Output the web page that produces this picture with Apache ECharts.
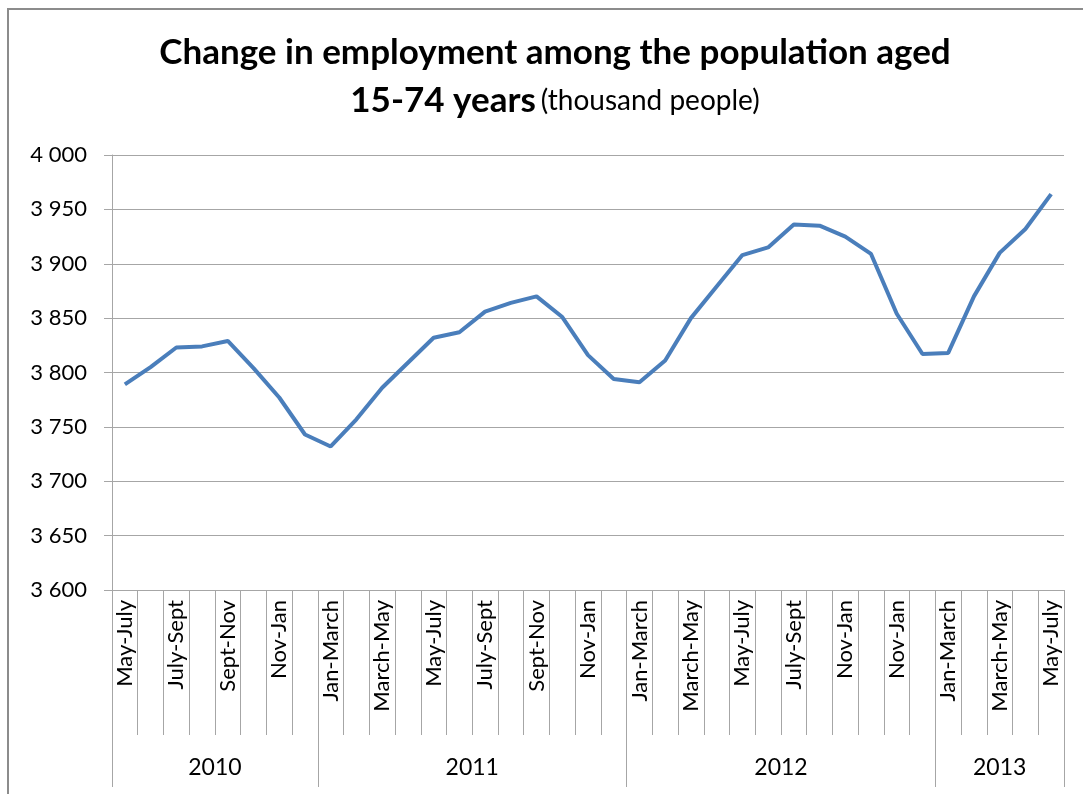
<!DOCTYPE html>
<html>
<head>
<meta charset="utf-8">
<script src="https://cdn.jsdelivr.net/npm/echarts@6/dist/echarts.min.js"></script>
<style>
html,body{margin:0;padding:0;background:#fff;}
#chart{width:1083px;height:794px;}
</style>
</head>
<body>
<div id="chart"></div>
<script>
// ---- data ----
const categories = [
  'May-July','June-Aug','July-Sept','Aug-Oct','Sept-Nov','Oct-Dec','Nov-Jan','Dec-Feb',
  'Jan-March','Feb-April','March-May','April-June','May-July','June-Aug','July-Sept','Aug-Oct','Sept-Nov','Oct-Dec','Nov-Jan','Dec-Feb',
  'Jan-March','Feb-April','March-May','April-June','May-July','June-Aug','July-Sept','Aug-Oct','Nov-Jan','Oct-Dec','Nov-Jan','Dec-Feb',
  'Jan-March','Feb-April','March-May','April-June','May-July'
];
const employment = [
  3789, 3805, 3823, 3824, 3829, 3804, 3777, 3743,
  3732, 3757, 3786, 3809, 3832, 3837, 3856, 3864, 3870, 3851, 3816, 3794,
  3791, 3811, 3850, 3879, 3908, 3915, 3936, 3935, 3925, 3909, 3854, 3817,
  3818, 3870, 3910, 3932, 3964
];
const years = ['2010', '2011', '2012', '2013'];
const yearCounts = [8, 12, 12, 5];
const yTicks = { min: 3600, max: 4000, step: 50 };

// ---- derived ----
const yearBounds = [0];
yearCounts.forEach(c => yearBounds.push(yearBounds[yearBounds.length - 1] + c));
const yearCenters = years.map((y, i) => (yearBounds[i] + yearBounds[i + 1]) / 2);

const FONT = 'Lato, "DejaVu Sans", sans-serif';
const GRAY = '#a6a6a6';

const chart = echarts.init(document.getElementById('chart'), null, { renderer: 'canvas' });
chart.setOption({
  animation: false,
  backgroundColor: '#fff',
  graphic: [{
    type: 'rect',
    shape: { x: 8, y: 9, width: 1200, height: 900 },
    style: { fill: 'none', stroke: '#8c8c8c', lineWidth: 2 },
    silent: true
  }],
  title: {
    left: 550,
    top: 24,
    textAlign: 'center',
    text: '{b|Change in employment among the population aged}\n{b|15-74 years} {n|(thousand people)}',
    textStyle: {
      rich: {
        b: { fontFamily: FONT, fontWeight: 'bold', fontSize: 35, color: '#000', lineHeight: 48 },
        n: { fontFamily: FONT, fontWeight: 'normal', fontSize: 28, color: '#000', lineHeight: 48 }
      }
    }
  },
  grid: { left: 112, right: 19, top: 155, bottom: 204, containLabel: false },
  xAxis: [{
    type: 'category',
    data: categories,
    boundaryGap: true,
    axisLine: { show: true, lineStyle: { color: GRAY, width: 1 } },
    axisTick: { show: true, interval: 0, length: 145, lineStyle: { color: GRAY, width: 1 } },
    axisLabel: {
      interval: 1, rotate: 90, margin: 10,
      fontFamily: FONT, fontSize: 22, color: '#000'
    },
    splitLine: { show: false }
  }, {
    type: 'value',
    position: 'bottom',
    min: 0,
    max: yearBounds[yearBounds.length - 1],
    axisLine: { show: false },
    splitLine: { show: false },
    axisTick: { show: true, customValues: yearBounds, length: 197, lineStyle: { color: GRAY, width: 1 } },
    axisLabel: {
      show: true,
      customValues: yearCenters,
      margin: 166,
      fontFamily: FONT, fontSize: 23, color: '#000',
      formatter: v => {
        const i = yearCenters.findIndex(c => Math.abs(c - v) < 1e-6);
        return i >= 0 ? years[i] : '';
      }
    }
  }],
  yAxis: {
    type: 'value',
    min: yTicks.min, max: yTicks.max, interval: yTicks.step,
    axisLine: { show: true, lineStyle: { color: GRAY, width: 1 } },
    axisTick: { show: true, length: 8, lineStyle: { color: GRAY } },
    splitLine: { show: true, lineStyle: { color: GRAY, width: 1 } },
    axisLabel: {
      margin: 25,
      fontFamily: FONT, fontSize: 22, color: '#000',
      formatter: v => String(v).replace(/\B(?=(\d{3})+(?!\d))/g, ' ')
    }
  },
  series: [{
    type: 'line',
    xAxisIndex: 0,
    data: employment,
    showSymbol: false,
    symbol: 'none',
    lineStyle: { color: '#4a7ebb', width: 4 },
    itemStyle: { color: '#4a7ebb' }
  }]
});
</script>
</body>
</html>
